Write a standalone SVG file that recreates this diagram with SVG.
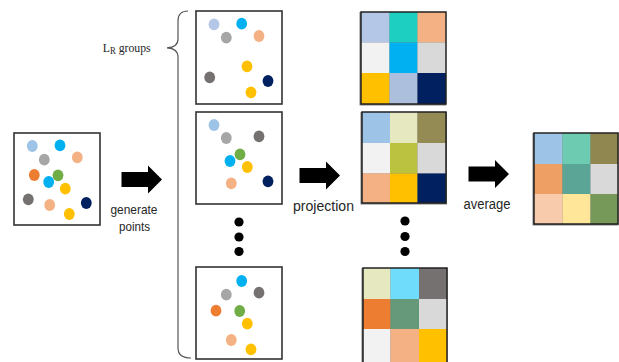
<svg xmlns="http://www.w3.org/2000/svg" width="619" height="362" viewBox="0 0 619 362">
  <style>
    .box { fill: #ffffff; stroke: #333333; stroke-width: 1.6; }
    .grid { fill: none; stroke: #222222; stroke-width: 1.5; }
    .shadow { fill: #7f7f7f; }
    .lbl { font-family: "Liberation Sans", Arial, sans-serif; fill: #262626; }
    .serif { font-family: "Liberation Serif", "Times New Roman", serif; fill: #262626; }
    .arrow { fill: #000000; }
    .ell { fill: #000000; }
    .brace { fill: none; stroke: #555555; stroke-width: 1.2; }
  </style>
  <defs>
    <ellipse id="d" rx="5.4" ry="5.9"/>
    <path id="arr" d="M0,-7.5 H26.5 V-14 L40.5,0 L26.5,14 V7.5 H0 Z"/>
  </defs>
  <rect width="619" height="362" fill="#ffffff"/>

  <!-- input point set -->
  <g id="input">
    <rect class="box" x="14" y="133" width="86" height="92"/>
    <use href="#d" x="32.3" y="146" fill="#9dc3e6"/>
    <use href="#d" x="60" y="145.3" fill="#00b0f0"/>
    <use href="#d" x="44.3" y="159.7" fill="#a6a6a6"/>
    <use href="#d" x="77.3" y="157.3" fill="#f4b183"/>
    <use href="#d" x="34.3" y="175" fill="#ed7d31"/>
    <use href="#d" x="58" y="175.3" fill="#70ad47"/>
    <use href="#d" x="48.7" y="182" fill="#00b0f0"/>
    <use href="#d" x="65.3" y="188.7" fill="#ffc000"/>
    <use href="#d" x="28.3" y="199.3" fill="#767171"/>
    <use href="#d" x="49.7" y="205" fill="#f4b183"/>
    <use href="#d" x="86.3" y="203" fill="#002060"/>
    <use href="#d" x="69.3" y="214" fill="#ffc000"/>
  </g>

  <!-- generated point groups -->
  <g id="group1">
    <rect class="box" x="196" y="11" width="86" height="93"/>
    <use href="#d" x="214" y="24.3" fill="#b4c7e7"/>
    <use href="#d" x="241.7" y="23.7" fill="#00b0f0"/>
    <use href="#d" x="226.3" y="37.7" fill="#a6a6a6"/>
    <use href="#d" x="259" y="36" fill="#f4b183"/>
    <use href="#d" x="247" y="66.3" fill="#ffc000"/>
    <use href="#d" x="209.7" y="77.3" fill="#767171"/>
    <use href="#d" x="268" y="81" fill="#002060"/>
    <use href="#d" x="251" y="92.3" fill="#ffc000"/>
  </g>
  <g id="group2">
    <rect class="box" x="196" y="112" width="86" height="92"/>
    <use href="#d" x="214" y="125" fill="#9dc3e6"/>
    <use href="#d" x="226.3" y="138" fill="#a6a6a6"/>
    <use href="#d" x="259" y="136.3" fill="#767171"/>
    <use href="#d" x="240" y="154.3" fill="#70ad47"/>
    <use href="#d" x="230" y="161" fill="#00b0f0"/>
    <use href="#d" x="247.3" y="167" fill="#ffc000"/>
    <use href="#d" x="231.3" y="183.3" fill="#f4b183"/>
    <use href="#d" x="268" y="181.3" fill="#002060"/>
  </g>
  <g id="group3">
    <rect class="box" x="196" y="267" width="86" height="92"/>
    <use href="#d" x="241.7" y="281" fill="#00b0f0"/>
    <use href="#d" x="226.3" y="294.7" fill="#a6a6a6"/>
    <use href="#d" x="259" y="292.7" fill="#767171"/>
    <use href="#d" x="216" y="310.7" fill="#ed7d31"/>
    <use href="#d" x="239.7" y="311" fill="#70ad47"/>
    <use href="#d" x="247.3" y="323.7" fill="#ffc000"/>
    <use href="#d" x="231.3" y="340" fill="#f4b183"/>
    <use href="#d" x="251" y="349.3" fill="#ffc000"/>
  </g>
  <g id="groups-ellipsis">
    <circle class="ell" cx="239" cy="222" r="4.6"/>
    <circle class="ell" cx="239" cy="237" r="4.6"/>
    <circle class="ell" cx="239" cy="251.5" r="4.6"/>
  </g>

  <!-- brace and its label -->
  <g id="brace-label">
    <path class="brace" d="M188,11 C181,11 178,14 178,21 V39 C178,45 174,47.5 167,47.8 C174,48.2 178,51 178,57 V348 C178,355 183,358 191,358"/>
    <text class="serif" x="102.7" y="52" font-size="13.5" textLength="48" lengthAdjust="spacingAndGlyphs">L<tspan font-size="10" dy="1.5">R</tspan><tspan dy="-1.5"> groups</tspan></text>
  </g>

  <!-- projected grids -->
  <g id="grid1">
    <rect class="shadow" x="359.5" y="12" width="86.5" height="93.5"/>
    <rect x="361" y="12" width="28.5" height="30.5" fill="#b4c7e7"/>
    <rect x="389.5" y="12" width="28" height="30.5" fill="#1dcfc0"/>
    <rect x="417.5" y="12" width="28.5" height="30.5" fill="#f4b183"/>
    <rect x="361" y="42.5" width="28.5" height="30.5" fill="#f2f2f2"/>
    <rect x="389.5" y="42.5" width="28" height="30.5" fill="#00b0f0"/>
    <rect x="417.5" y="42.5" width="28.5" height="30.5" fill="#d9d9d9"/>
    <rect x="361" y="73" width="28.5" height="31" fill="#ffc000"/>
    <rect x="389.5" y="73" width="28" height="31" fill="#acc0de"/>
    <rect x="417.5" y="73" width="28.5" height="31" fill="#002060"/>
    <rect class="grid" x="361" y="12" width="85" height="92"/>
  </g>
  <g id="grid2">
    <rect class="shadow" x="360.5" y="112" width="86.5" height="92.5"/>
    <rect x="362" y="112" width="28" height="31" fill="#9dc3e6"/>
    <rect x="390" y="112" width="27.5" height="31" fill="#e6e9c0"/>
    <rect x="417.5" y="112" width="28.5" height="31" fill="#948a54"/>
    <rect x="362" y="143" width="28" height="30.5" fill="#f2f2f2"/>
    <rect x="390" y="143" width="27.5" height="30.5" fill="#bbc240"/>
    <rect x="417.5" y="143" width="28.5" height="30.5" fill="#d9d9d9"/>
    <rect x="362" y="173.5" width="28" height="29.5" fill="#f4b183"/>
    <rect x="390" y="173.5" width="27.5" height="29.5" fill="#ffc000"/>
    <rect x="417.5" y="173.5" width="28.5" height="29.5" fill="#002060"/>
    <rect class="grid" x="362" y="112" width="84" height="91"/>
  </g>
  <g id="grid3">
    <rect class="shadow" x="361.5" y="268" width="86" height="94"/>
    <rect x="363" y="268" width="27.5" height="31" fill="#e6e9c0"/>
    <rect x="390.5" y="268" width="28.5" height="31" fill="#6fdcfc"/>
    <rect x="419" y="268" width="28" height="31" fill="#767171"/>
    <rect x="363" y="299" width="27.5" height="30" fill="#ed7d31"/>
    <rect x="390.5" y="299" width="28.5" height="30" fill="#66997a"/>
    <rect x="419" y="299" width="28" height="30" fill="#d9d9d9"/>
    <rect x="363" y="329" width="27.5" height="33" fill="#f2f2f2"/>
    <rect x="390.5" y="329" width="28.5" height="33" fill="#f4b183"/>
    <rect x="419" y="329" width="28" height="33" fill="#ffc000"/>
    <rect class="grid" x="363" y="268" width="84" height="96"/>
  </g>
  <g id="grids-ellipsis">
    <circle class="ell" cx="405" cy="221" r="4.6"/>
    <circle class="ell" cx="405" cy="236.5" r="4.6"/>
    <circle class="ell" cx="405" cy="251.5" r="4.6"/>
  </g>

  <!-- averaged grid -->
  <g id="average-grid">
    <rect class="shadow" x="532.5" y="133" width="86" height="92.5"/>
    <rect x="534" y="133" width="28.5" height="31" fill="#9dc3e6"/>
    <rect x="562.5" y="133" width="28" height="31" fill="#6ccbb0"/>
    <rect x="590.5" y="133" width="27.5" height="31" fill="#8f8650"/>
    <rect x="534" y="164" width="28.5" height="30" fill="#ee9f64"/>
    <rect x="562.5" y="164" width="28" height="30" fill="#5aa595"/>
    <rect x="590.5" y="164" width="27.5" height="30" fill="#d9d9d9"/>
    <rect x="534" y="194" width="28.5" height="30" fill="#f8cbad"/>
    <rect x="562.5" y="194" width="28" height="30" fill="#ffe699"/>
    <rect x="590.5" y="194" width="27.5" height="30" fill="#76995a"/>
    <rect class="grid" x="534" y="133" width="84" height="91"/>
  </g>

  <!-- process arrows with their labels -->
  <g id="connectors">
    <use href="#arr" class="arrow" x="121.5" y="179.5"/>
    <use href="#arr" class="arrow" x="299.5" y="175.5"/>
    <use href="#arr" class="arrow" x="468.5" y="174"/>
    <text class="lbl" x="134" y="213.5" font-size="13" text-anchor="middle" textLength="47" lengthAdjust="spacingAndGlyphs">generate</text>
    <text class="lbl" x="134.5" y="230.5" font-size="13" text-anchor="middle" textLength="31" lengthAdjust="spacingAndGlyphs">points</text>
    <text class="lbl" x="323.5" y="210.5" font-size="14" text-anchor="middle" textLength="61" lengthAdjust="spacingAndGlyphs">projection</text>
    <text class="lbl" x="487" y="208.5" font-size="14" text-anchor="middle" textLength="47" lengthAdjust="spacingAndGlyphs">average</text>
  </g>
</svg>
